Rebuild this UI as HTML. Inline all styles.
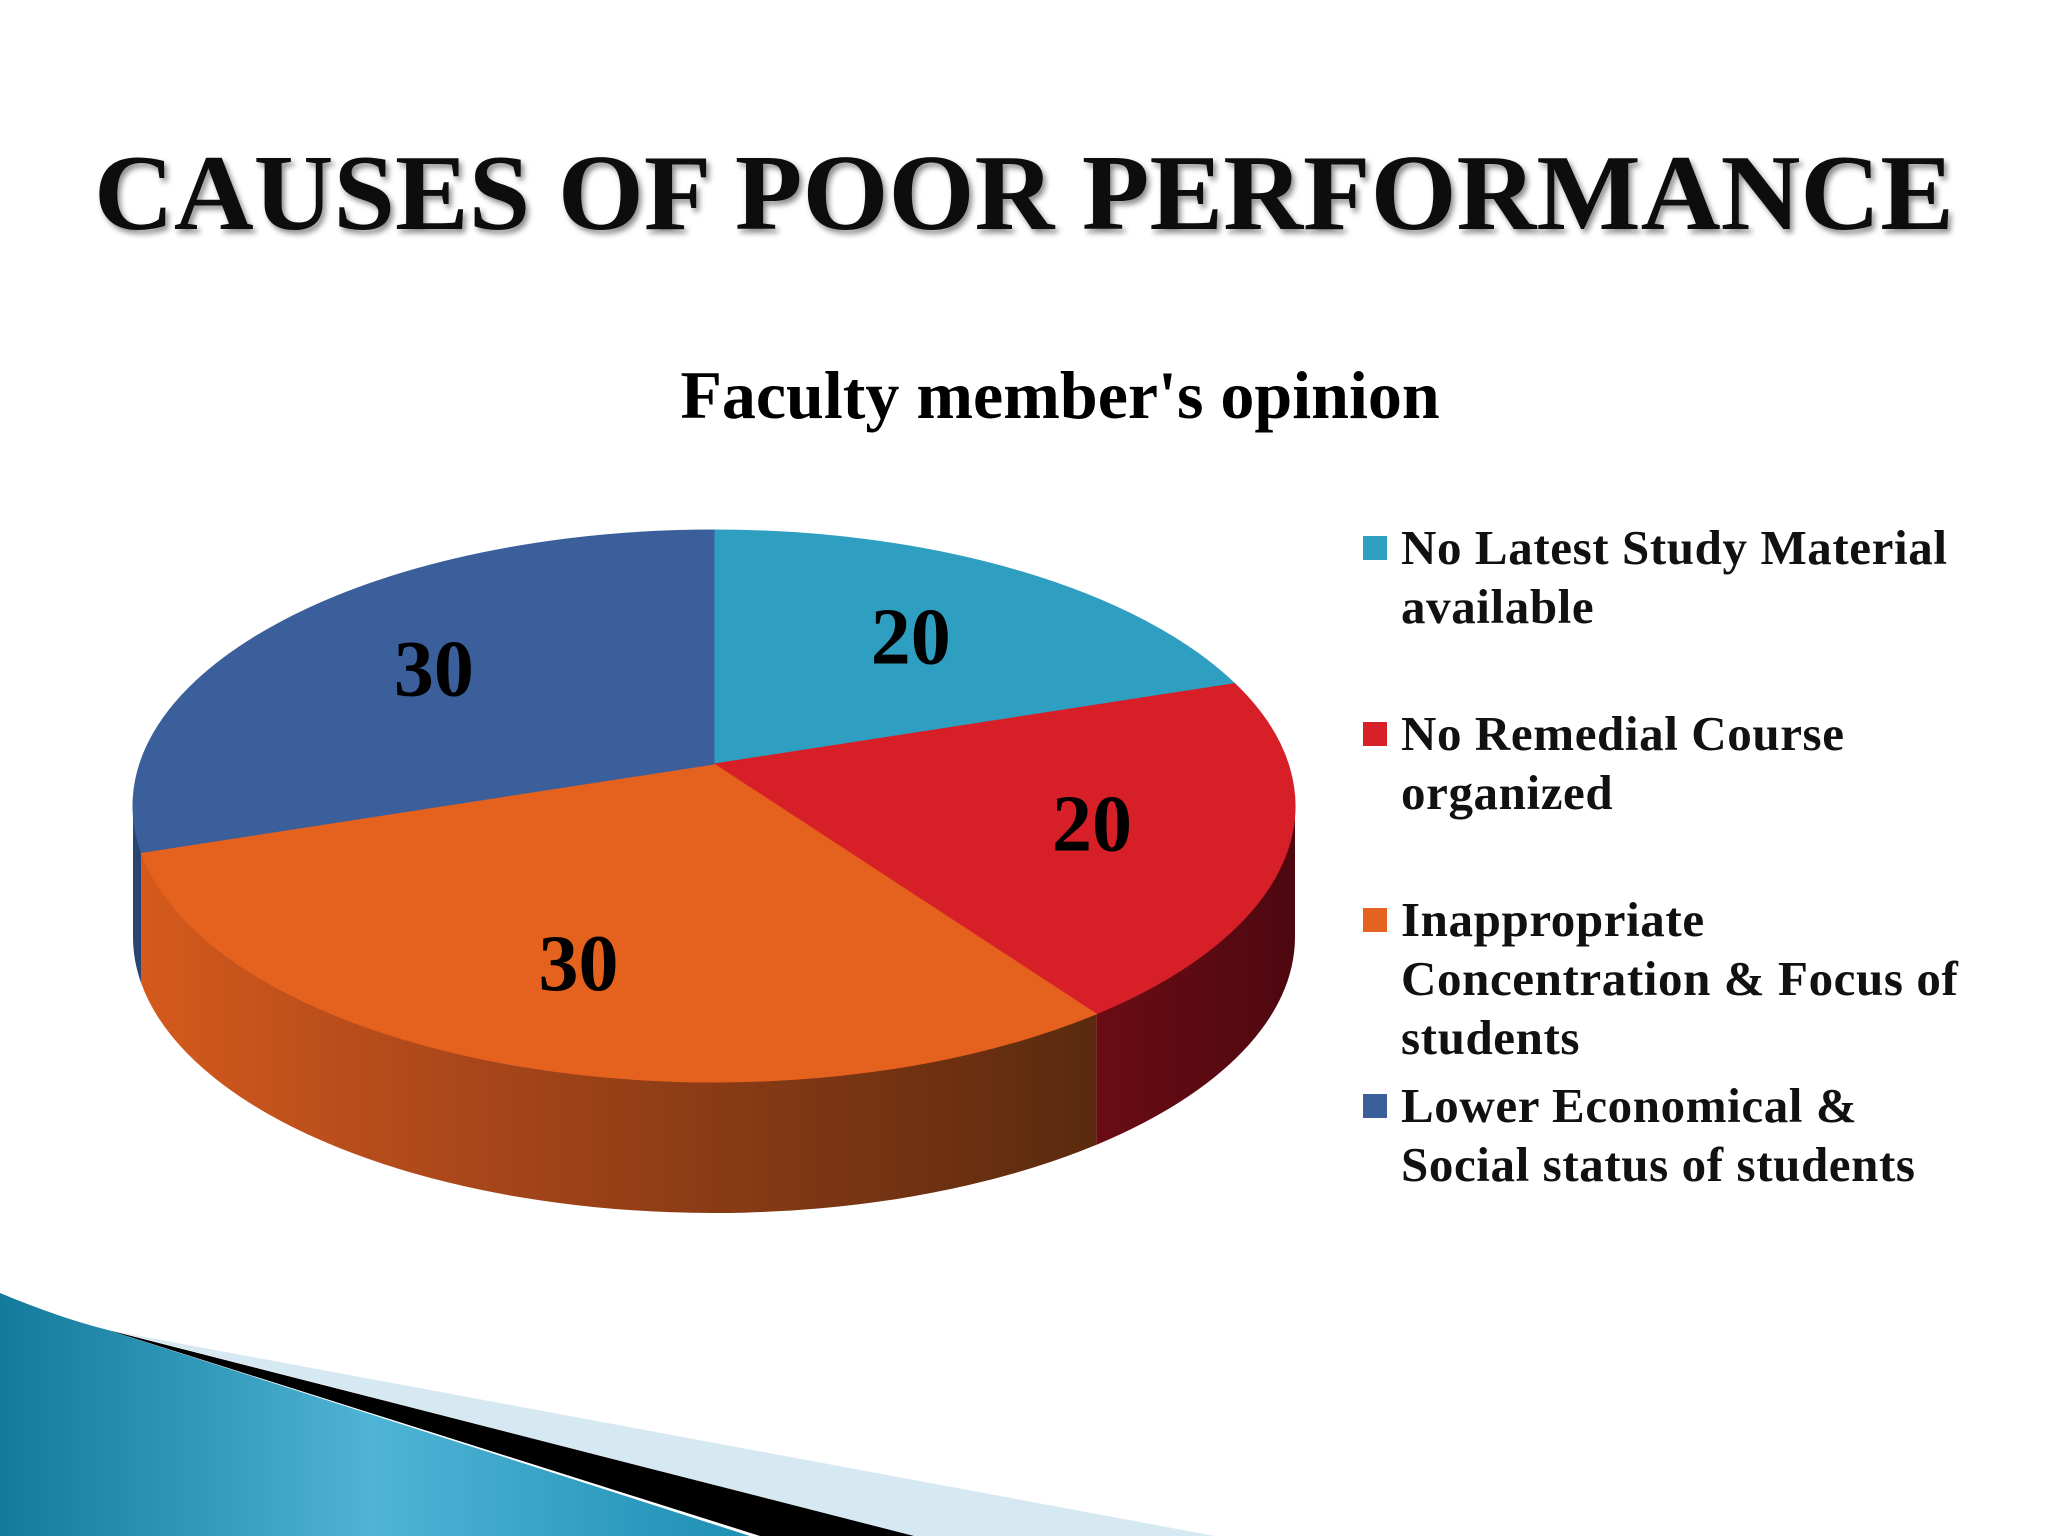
<!DOCTYPE html>
<html><head><meta charset="utf-8"><style>
html,body{margin:0;padding:0;background:#fff;}
svg{display:block;}
</style></head><body>
<svg width="2048" height="1536" viewBox="0 0 2048 1536" xmlns="http://www.w3.org/2000/svg">
<defs>
<linearGradient id="blueG" x1="0" y1="0" x2="1" y2="0">
<stop offset="0" stop-color="#137a9c"/><stop offset="0.5" stop-color="#4fb4d6"/><stop offset="1" stop-color="#1d8fb4"/>
</linearGradient>
<linearGradient id="orangeSide" x1="0" y1="0" x2="1" y2="0">
<stop offset="0" stop-color="#d45a1c"/><stop offset="0.35" stop-color="#a8461a"/><stop offset="1" stop-color="#5a2a0e"/>
</linearGradient>
<linearGradient id="redSide" x1="0" y1="0" x2="1" y2="0">
<stop offset="0" stop-color="#6a0c14"/><stop offset="1" stop-color="#4e0810"/>
</linearGradient>
<filter id="sh" x="-5%" y="-20%" width="110%" height="140%"><feDropShadow dx="3" dy="4" stdDeviation="3" flood-color="#000" flood-opacity="0.45"/></filter>
</defs>
<g>
<polygon points="118,1332 1215,1536 914,1536" fill="#d6e8f2"/>
<polygon points="108,1330 914,1536 760,1536" fill="#000"/>
<path d="M0,1293 Q60,1318 108,1330 L750,1536 L0,1536 Z" fill="url(#blueG)"/>
</g>
<text x="1024" y="229" text-anchor="middle" font-family="Liberation Serif, serif" font-weight="bold" font-size="108" fill="#111" filter="url(#sh)" textLength="1860" lengthAdjust="spacingAndGlyphs">CAUSES OF POOR PERFORMANCE</text>
<text x="1060" y="418" text-anchor="middle" font-family="Liberation Serif, serif" font-weight="bold" font-size="68" fill="#000">Faculty member's opinion</text>
<g id="pie"></g>
<g id="legend"></g>
</svg>
<script>
const categories = ["No Latest Study Material available","No Remedial Course organized","Inappropriate Concentration & Focus of students","Lower Economical & Social status of students"];
const values = [20, 20, 30, 30];
const legendLines = [["No Latest Study Material","available"],["No Remedial Course","organized"],["Inappropriate","Concentration & Focus of","students"],["Lower Economical &","Social status of students"]];
const colors = ["#2f9fc1","#d71f27","#e5611e","#3a5f9b"];
const sideFills = ["#1f7490","url(#redSide)","url(#orangeSide)","#2a4572"];
const NS="http://www.w3.org/2000/svg";
const cx=714, cy=806, rx=581, ry=276, depth=131, ax=714, ay=764;
const total = values.reduce((a,b)=>a+b,0);
const oy=(ay-cy)/ry;
function rimT(a){const v=-Math.cos(a);return -oy*v+Math.sqrt(oy*oy*v*v-oy*oy+1);}
function rim(a,f){const t=rimT(a)*(f===undefined?1:f);return [ax+rx*Math.sin(a)*t, ay-ry*Math.cos(a)*t];}
function param(p){let phi=Math.atan2((p[0]-cx)/rx, -(p[1]-cy)/ry);if(phi<0)phi+=2*Math.PI;return phi;}
function ell(phi){return [cx+rx*Math.sin(phi), cy-ry*Math.cos(phi)];}
const pie=document.getElementById('pie');
function mk(tag,attrs){const e=document.createElementNS(NS,tag);for(const k in attrs)e.setAttribute(k,attrs[k]);return e;}
let acc=0; const angles=[];
values.forEach(v=>{const a0=acc/total*2*Math.PI; acc+=v; angles.push([a0, acc/total*2*Math.PI]);});
angles.forEach(([a0,a1],i)=>{
  const f0=param(rim(a0)), f1=(a1>=2*Math.PI-1e-9)?2*Math.PI:param(rim(a1));
  const s=Math.max(f0,Math.PI/2), e=Math.min(f1,3*Math.PI/2);
  if(e<=s) return;
  const p0=ell(s), p1=ell(e);
  const d=`M${p0[0]},${p0[1]} A${rx},${ry} 0 0 1 ${p1[0]},${p1[1]} L${p1[0]},${p1[1]+depth} A${rx},${ry} 0 0 0 ${p0[0]},${p0[1]+depth} Z`;
  const side=mk('path',{d:d,fill:sideFills[i]});
  
  
  pie.appendChild(side);
});
angles.forEach(([a0,a1],i)=>{
  const p0=rim(a0), p1=rim(a1);
  const f0=param(p0), f1=(a1>=2*Math.PI-1e-9)?2*Math.PI:param(p1);
  const large=(f1-f0)>Math.PI?1:0;
  const d=`M${ax},${ay} L${p0[0]},${p0[1]} A${rx},${ry} 0 ${large} 1 ${p1[0]},${p1[1]} Z`;
  const sl=mk('path',{d:d,fill:colors[i],stroke:colors[i],'stroke-width':1});
  
  
  pie.appendChild(sl);
});
angles.forEach(([a0,a1],i)=>{
  const m=(a0+a1)/2;
  const p=rim(m,0.66);
  const t=mk('text',{x:p[0],y:p[1]+28,'text-anchor':'middle','font-family':'Liberation Serif, serif','font-weight':'bold','font-size':80,fill:'#000'});
  t.textContent=values[i];
  
  
  pie.appendChild(t);
});
const lg=document.getElementById('legend');
const starts=[548,734,920,1106];
legendLines.forEach((lines,i)=>{
  const g=mk('g',{});
  
  
  const r=mk('rect',{x:1363,y:starts[i]-12,width:24,height:24,fill:colors[i]});
  
  
  g.appendChild(r);
  lines.forEach((ln,j)=>{
    const t=mk('text',{x:1401,y:starts[i]+16+j*59,'font-family':'Liberation Serif, serif','font-weight':'bold','font-size':49,'letter-spacing':0.6,fill:'#111'});
    t.textContent=ln;
    
    
    g.appendChild(t);
  });
  lg.appendChild(g);
});
</script>
</body></html>
